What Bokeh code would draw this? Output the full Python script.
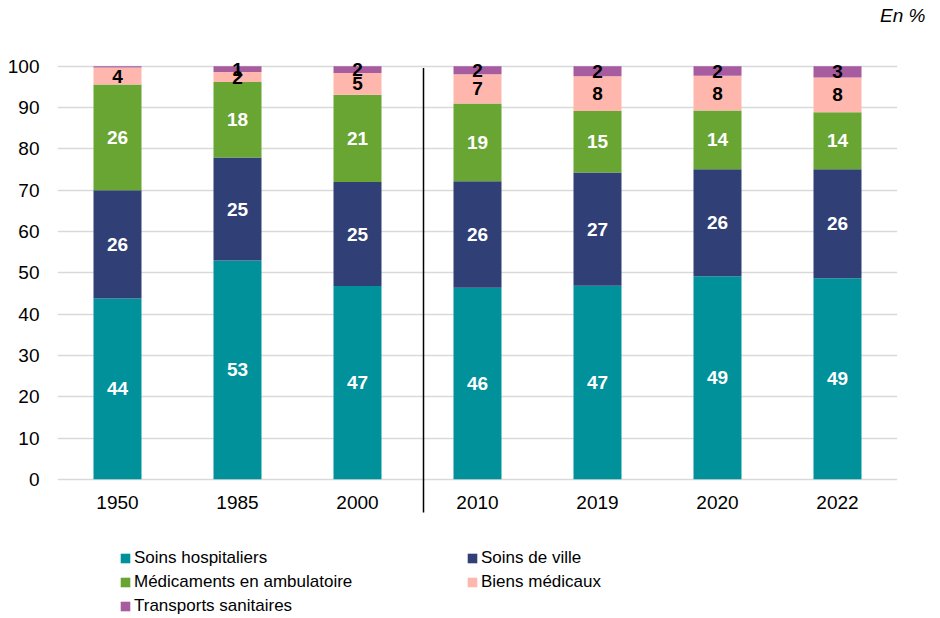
from bokeh.plotting import figure
from bokeh.models import (ColumnDataSource, Range1d, FactorRange, FixedTicker,
                          Legend, LegendItem, Arrow)
from bokeh.core.properties import value
from bokeh.embed import file_html
from bokeh.resources import INLINE

years = ["1950", "1985", "2000", "2010", "2019", "2020", "2022"]
soins_hospitaliers = [43.8, 53.0, 46.8, 46.4, 46.9, 49.2, 48.7]
soins_de_ville = [26.2, 24.9, 25.2, 25.8, 27.4, 25.9, 26.4]
medicaments = [25.6, 18.3, 21.1, 18.8, 14.9, 14.2, 13.8]
biens_medicaux = [4.1, 2.4, 5.3, 7.1, 8.4, 8.4, 8.4]
transports = [0.3, 1.4, 1.6, 1.9, 2.4, 2.3, 2.7]

series_names = ["Soins hospitaliers", "Soins de ville", "Médicaments en ambulatoire",
                "Biens médicaux", "Transports sanitaires"]
series_keys = ["hosp", "ville", "med", "biens", "trans"]
series_vals = [soins_hospitaliers, soins_de_ville, medicaments, biens_medicaux, transports]
colors = ["#00919A", "#303F75", "#69A533", "#FFB7AD", "#A65C9F"]
label_colors = ["white", "white", "white", "black", "black"]
y_ticks = list(range(0, 101, 10))
separator_pos = 3.05  # between 2000 and 2010 (synthetic categorical coordinate)

FONT = "Liberation Sans"

data = {"year": years}
for k, v in zip(series_keys, series_vals):
    data[k] = v
src = ColumnDataSource(data)

p = figure(x_range=FactorRange(*years), y_range=Range1d(-33.2, 109.4),
           width=932, height=616, output_backend="svg", toolbar_location=None,
           min_border_left=57, min_border_right=35, min_border_top=0,
           min_border_bottom=0)
p.outline_line_color = None
p.title.text = "En %"
p.title.align = "right"
p.title.text_font = FONT
p.title.text_font_style = "italic"
p.title.text_font_size = "19px"
p.title.text_color = "black"
p.title.offset = -28
p.title.standoff = 4

renderers = p.vbar_stack(series_keys, x="year", width=0.4, color=colors,
                         line_color=None, source=src)

# data labels
for i, (k, v) in enumerate(zip(series_keys, series_vals)):
    xs, ys, ts = [], [], []
    for j, yr in enumerate(years):
        base = sum(series_vals[m][j] for m in range(i))
        if v[j] >= 0.5:
            xs.append(yr)
            ys.append(base + v[j] / 2)
            ts.append(str(int(v[j] + 0.5)))
    lsrc = ColumnDataSource(dict(x=xs, y=ys, t=ts))
    p.text(x="x", y="y", text="t", source=lsrc, text_color=label_colors[i],
           text_font=value(FONT), text_font_style="bold", text_font_size="19px",
           text_align="center", text_baseline="middle")

# separator line
p.add_layout(Arrow(x_start=separator_pos, x_end=separator_pos, y_start=99.6, y_end=-8.0,
                   start=None, end=None, line_color="black", line_width=1.5))

# axes
p.xgrid.grid_line_color = None
p.ygrid.grid_line_color = "#D9D9D9"
p.ygrid.grid_line_width = 1.5
p.ygrid.ticker = FixedTicker(ticks=y_ticks)
p.yaxis.ticker = FixedTicker(ticks=y_ticks)
p.xaxis.fixed_location = 0
for ax in (p.xaxis[0], p.yaxis[0]):
    ax.axis_line_color = None
    ax.major_tick_line_color = None
    ax.minor_tick_line_color = None
    ax.major_label_text_font = FONT
    ax.major_label_text_font_size = "19px"
    ax.major_label_text_color = "black"
p.yaxis.major_label_standoff = 12
p.xaxis.major_label_standoff = 11

# legends (two columns)
def make_legend(idx, x, y):
    items = [LegendItem(label=series_names[i], renderers=[renderers[i]]) for i in idx]
    lg = Legend(items=items, location=(x, y), orientation="vertical",
                label_text_font=FONT, label_text_font_size="17px",
                label_text_color="black", glyph_width=12, glyph_height=12,
                label_standoff=3, spacing=4, padding=0, margin=0,
                border_line_color=None, background_fill_alpha=0)
    p.add_layout(lg, "center")

make_legend([0, 2, 4], 62, 0)
make_legend([1, 3], 409, 24)

open("out.html", "w").write(file_html(p, INLINE))
